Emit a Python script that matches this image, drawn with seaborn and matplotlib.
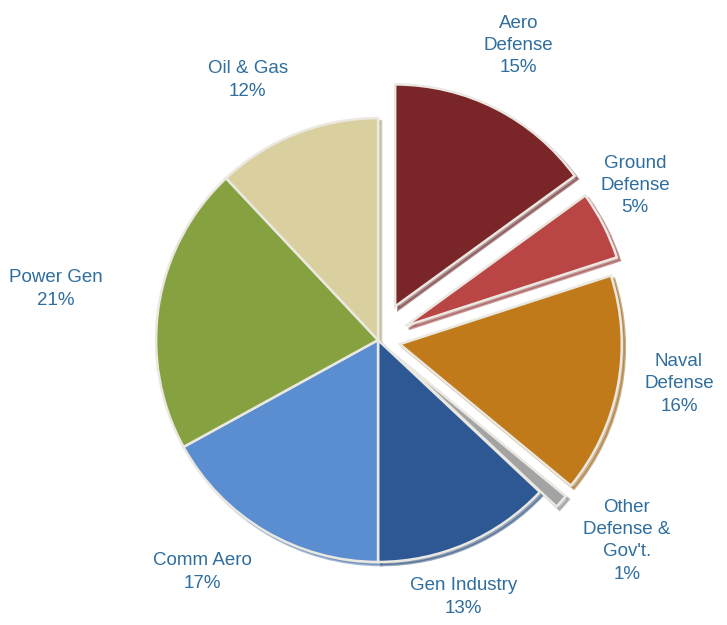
import matplotlib
matplotlib.use("Agg")
import matplotlib.pyplot as plt
import numpy as np
import seaborn as sns

# Revenue mix by market segment
segments = ["Aero\nDefense", "Ground\nDefense", "Naval\nDefense",
            "Other\nDefense &\nGov't.", "Gen Industry", "Comm Aero",
            "Power Gen", "Oil & Gas"]
shares = [15, 5, 16, 1, 13, 17, 21, 12]
colors = ["#7a2628", "#b94645", "#c07a1a", "#a3a3a3",
          "#2d5893", "#5a8ed0", "#86a240", "#d9cf9f"]

# Defense segments pulled out of the pie
explode = [0.17, 0.14, 0.10, 0.10, 0, 0, 0, 0]
# Label placement: radial distance and angular nudge (degrees)
label_dist = [1.47, 1.35, 1.37, 1.44, 1.22, 1.31, 1.47, 1.31]
label_nudge = [1.5, 4, 2.5, 2.5, -5, -6.5, 0, 5]

sns.set_theme(style="white")
plt.rcParams["font.family"] = ["Liberation Sans", "DejaVu Sans"]

fig = plt.figure(figsize=(7.27, 6.25), dpi=100)
ax = fig.add_axes([0, 0, 1, 1])
palette = sns.color_palette(colors)

wedges, _ = ax.pie(
    shares, explode=explode, colors=palette, startangle=90,
    counterclock=False, radius=1.0,
    wedgeprops=dict(edgecolor="#ebe8e2", linewidth=1.8),
    shadow=dict(ox=0.01, oy=-0.01, shade=0.2),
)

text_color = "#2f6e9e"
for w, name, pct, d, nudge in zip(wedges, segments, shares, label_dist, label_nudge):
    mid = np.deg2rad((w.theta1 + w.theta2) / 2 + nudge)
    ax.text(d * np.cos(mid), d * np.sin(mid), f"{name}\n{pct}%",
            ha="center", va="center", color=text_color, fontsize=13.5,
            linespacing=1.4)

ax.set_aspect("equal")
ax.set_xlim(-1.703, 1.572)
ax.set_ylim(-1.284, 1.532)
ax.axis("off")

fig.savefig("out.png", dpi=100, facecolor="white")
